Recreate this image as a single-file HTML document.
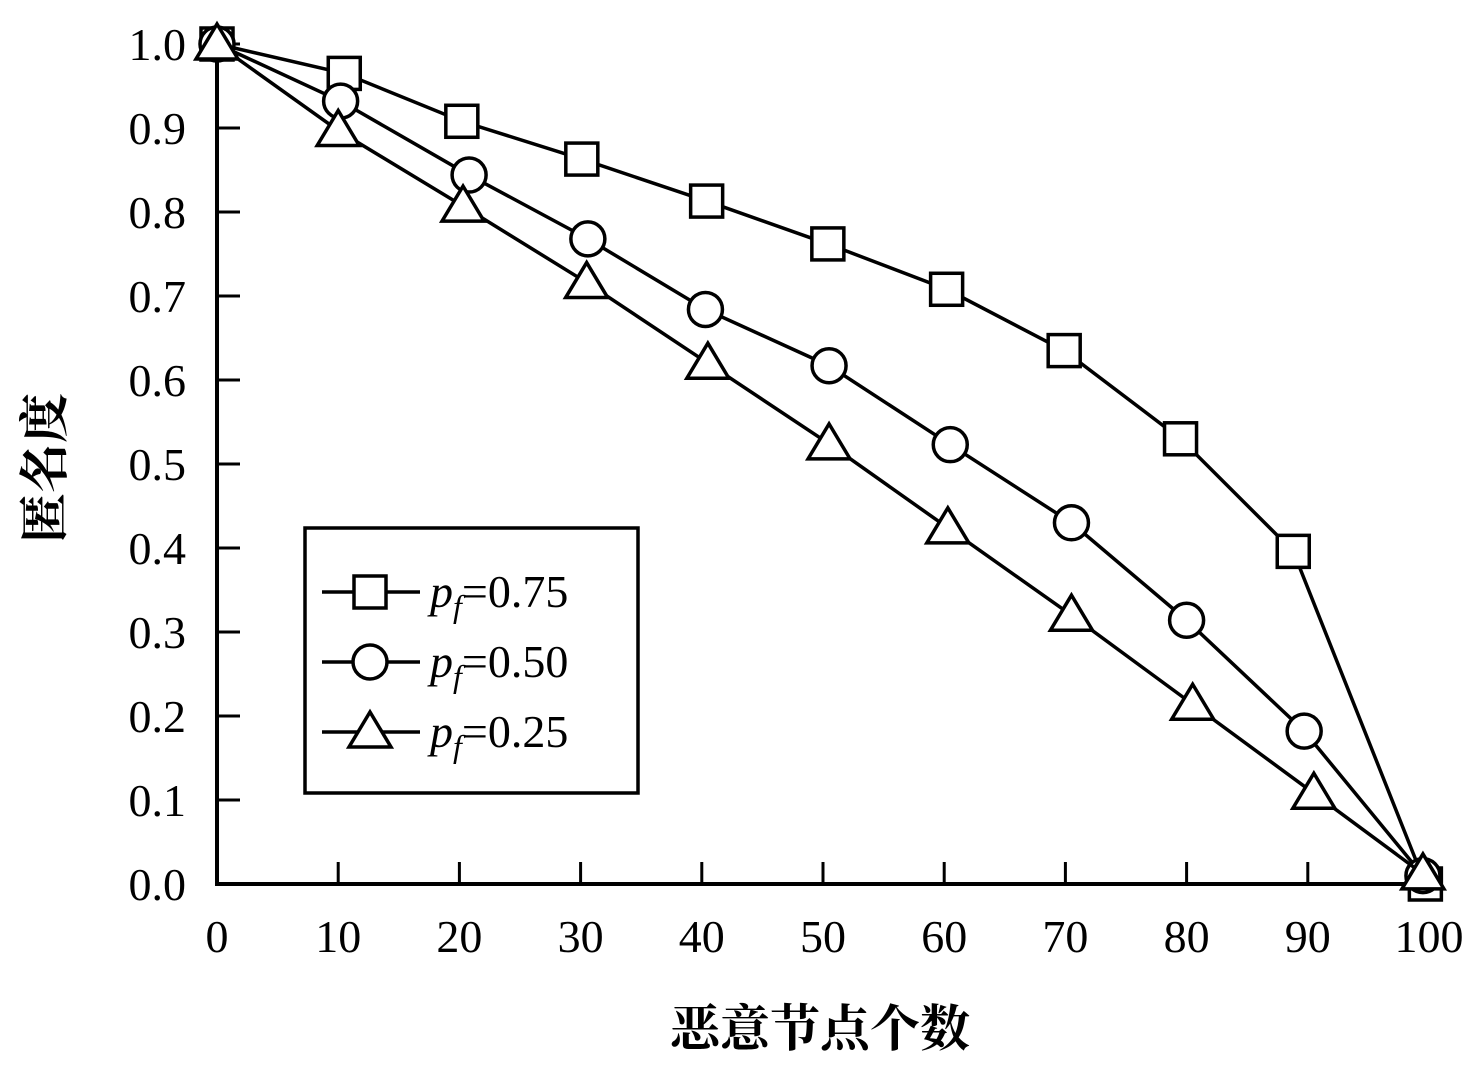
<!DOCTYPE html>
<html><head><meta charset="utf-8"><style>
body{margin:0;background:#fff}
svg text{font-family:"Liberation Serif","Noto Serif CJK SC",serif;fill:#000}
</style></head><body>
<svg id="c" width="1479" height="1065" xmlns="http://www.w3.org/2000/svg"></svg>
<script>
const xTicks=[0,10,20,30,40,50,60,70,80,90,100];
const yTicks=[0.0,0.1,0.2,0.3,0.4,0.5,0.6,0.7,0.8,0.9,1.0];
const sqX=[0,10.5,20.2,30.1,40.4,50.4,60.2,69.9,79.5,88.8,99.7];
const sqY=[1.0,0.965,0.908,0.863,0.813,0.762,0.708,0.635,0.53,0.396,0.0];
const ciX=[0,10.2,20.8,30.6,40.3,50.5,60.5,70.5,80,89.7,99.5];
const ciY=[1.0,0.932,0.844,0.768,0.684,0.617,0.523,0.43,0.314,0.182,0.01];
const trX=[0,10,20.3,30.5,40.5,50.5,60.3,70.5,80.5,90.5,99.5];
const trY=[1.0,0.897,0.807,0.716,0.62,0.524,0.424,0.32,0.214,0.108,0.012];
const NS="http://www.w3.org/2000/svg",svg=document.getElementById('c');
const X=v=>217+v*12.12, Y=v=>884-v*840;
function mk(t,a,p){const e=document.createElementNS(NS,t);for(const k in a)e.setAttribute(k,a[k]);(p||svg).appendChild(e);return e;}
// axes
let ax=mk('path',{d:`M217 40 V884 H1432`,fill:'none',stroke:'#000','stroke-width':4});


xTicks.forEach(v=>{
 if(v>0&&v<100){let t=mk('line',{x1:X(v),x2:X(v),y1:884,y2:862,stroke:'#000','stroke-width':3});
 
 }
 let l=mk('text',{x:X(v),y:952,'font-size':46,'text-anchor':'middle'});l.textContent=v;
 
 
});
yTicks.forEach(v=>{
 if(v>0){let t=mk('line',{x1:217,x2:240,y1:Y(v),y2:Y(v),stroke:'#000','stroke-width':3});
 
 }
 let l=mk('text',{x:186,y:Y(v)+16,'font-size':46,'text-anchor':'end'});l.textContent=v.toFixed(1);
 
 
});
let xt=mk('text',{x:820,y:1046,'font-size':50,'font-weight':'bold','text-anchor':'middle'});xt.textContent='恶意节点个数';


let yt=mk('text',{x:0,y:0,'font-size':50,'font-weight':'bold','text-anchor':'middle',transform:'translate(62,468) rotate(-90)'});yt.textContent='匿名度';


function marker(kind,cx,cy,g){
 const a={fill:'#fff',stroke:'#000','stroke-width':3.5};
 let e;
 if(kind==='sq')e=mk('rect',Object.assign({x:cx-16,y:cy-16,width:32,height:32},a),g);
 else if(kind==='ci')e=mk('circle',Object.assign({cx,cy,r:17},a),g);
 else e=mk('polygon',Object.assign({points:`${cx},${cy-20} ${cx-21},${cy+15} ${cx+21},${cy+15}`},a),g);
 return e;
}
const series=[['sq',sqX,sqY,'series-pf-075'],['ci',ciX,ciY,'series-pf-050'],['tr',trX,trY,'series-pf-025']];
series.forEach(([k,xs,ys,n])=>{
 const g=mk('g',{});
 
 
 let p=mk('polyline',{points:xs.map((x,i)=>X(x)+','+Y(ys[i])).join(' '),fill:'none',stroke:'#000','stroke-width':3.5},g);
 
 
 xs.forEach((x,i)=>{let m=marker(k,X(x),Y(ys[i]),g);
  
  });
});
// legend
const lg=mk('g',{});


mk('rect',{x:305,y:528,width:333,height:265,fill:'#fff',stroke:'#000','stroke-width':3.5},lg);
const labels=['0.75','0.50','0.25'],kinds=['sq','ci','tr'];
kinds.forEach((k,i)=>{
 const y=592+i*70;
 const e=mk('g',{},lg);
 
 
 mk('line',{x1:322,x2:420,y1:y,y2:y,stroke:'#000','stroke-width':3.5},e);
 marker(k,370,y,e);
 const t=mk('text',{x:430,y:y+15,'font-size':46},e);
 t.innerHTML=`<tspan font-style="italic">p</tspan><tspan font-style="italic" font-size="32" dy="10">f</tspan><tspan dy="-10">=${labels[i]}</tspan>`;
});
</script>
</body></html>
